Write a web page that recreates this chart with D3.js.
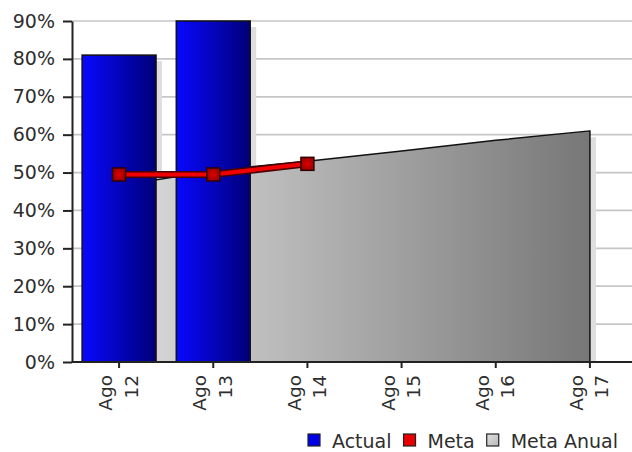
<!DOCTYPE html>
<html>
<head>
<meta charset="utf-8">
<script src="https://cdn.jsdelivr.net/npm/d3@7"></script>
<style>
  html, body { margin: 0; padding: 0; background: #fff; }
  svg { display: block; }
  text { font-family: "DejaVu Sans", Verdana, sans-serif; font-size: 19px; fill: #2e2e2e; }
</style>
</head>
<body>
<svg id="chart" width="632" height="452"></svg>
<script>
// ---- data ----
const categories = ["Ago 12", "Ago 13", "Ago 14", "Ago 15", "Ago 16", "Ago 17"];
const actualValues = [0.81, 0.90];
const metaValues = [0.495, 0.495, 0.523];
const metaAnualValues = [0.465, 0.505, 0.53, 0.557, 0.585, 0.61];
const yTickValues = [0, 0.1, 0.2, 0.3, 0.4, 0.5, 0.6, 0.7, 0.8, 0.9];
const legendLabels = ["Actual", "Meta", "Meta Anual"];

(function () {
// ---- layout ----
const W = 632, H = 452;
const pLeft = 72, pTop = 21, pBottom = 362, pRight = 637;
const svg = d3.select("#chart");

const x = d3.scaleBand().domain(categories).range([pLeft, pRight])
  .paddingInner(0.215).paddingOuter(0.1075);
const cx = c => x(c) + x.bandwidth() / 2;
const y = d3.scaleLinear().domain([0, 0.9]).range([pBottom, pTop]);

const defs = svg.append("defs");
const gBlue = defs.append("linearGradient").attr("id", "gBlue")
  .attr("x1", "0%").attr("x2", "100%").attr("y1", "0%").attr("y2", "0%");
gBlue.append("stop").attr("offset", "0%").attr("stop-color", "#0808ff");
gBlue.append("stop").attr("offset", "100%").attr("stop-color", "#000078");

const gGray = defs.append("linearGradient").attr("id", "gGray")
  .attr("gradientUnits", "userSpaceOnUse")
  .attr("x1", cx(categories[0])).attr("x2", cx(categories[categories.length - 1]))
  .attr("y1", 0).attr("y2", 0);
gGray.append("stop").attr("offset", "0%").attr("stop-color", "#dcdcdc");
gGray.append("stop").attr("offset", "100%").attr("stop-color", "#777777");

const gRed = defs.append("radialGradient").attr("id", "gRed");
gRed.append("stop").attr("offset", "0%").attr("stop-color", "#e00000");
gRed.append("stop").attr("offset", "100%").attr("stop-color", "#a00000");

const gLeg = defs.append("linearGradient").attr("id", "gLeg")
  .attr("x1", "0%").attr("x2", "100%").attr("y1", "0%").attr("y2", "100%");
gLeg.append("stop").attr("offset", "0%").attr("stop-color", "#e0e0e0");
gLeg.append("stop").attr("offset", "100%").attr("stop-color", "#b8b8b8");

defs.append("clipPath").attr("id", "plotClip").append("rect")
  .attr("x", pLeft).attr("y", 0).attr("width", W - pLeft).attr("height", pBottom);

// ---- gridlines ----
svg.append("g").selectAll("line").data(yTickValues.filter(v => v > 0)).join("line")
  .attr("x1", pLeft).attr("x2", W)
  .attr("y1", d => y(d)).attr("y2", d => y(d))
  .attr("stroke", "#c6c6c6").attr("stroke-width", 1.7);

const plot = svg.append("g").attr("clip-path", "url(#plotClip)");
const off = 6;

const areaPts = categories.map((c, i) => [cx(c), metaAnualValues[i]]);
const areaGen = d3.area().x(d => d[0]).y0(y(0)).y1(d => y(d[1]));

// area shadow
plot.append("path").datum(areaPts)
  .attr("d", areaGen)
  .attr("transform", `translate(${off},${off})`)
  .attr("fill", "#dedede");

// bar shadows
const barData = actualValues.map((v, i) => ({ c: categories[i], v }));
plot.append("g").selectAll("rect").data(barData).join("rect")
  .attr("x", d => x(d.c) + off)
  .attr("y", d => y(d.v) + off)
  .attr("width", x.bandwidth())
  .attr("height", d => y(0) - y(d.v))
  .attr("fill", "#dedede");

// area
plot.append("path").datum(areaPts)
  .attr("d", areaGen)
  .attr("fill", "url(#gGray)")
  .attr("stroke", "#111").attr("stroke-width", 1.5).attr("stroke-linejoin", "round");

// bars
plot.append("g").selectAll("rect").data(barData).join("rect")
  .attr("x", d => x(d.c))
  .attr("y", d => y(d.v))
  .attr("width", x.bandwidth())
  .attr("height", d => y(0) - y(d.v))
  .attr("fill", "url(#gBlue)")
  .attr("stroke", "#111").attr("stroke-width", 1.5);

// meta line
const metaPts = metaValues.map((v, i) => [cx(categories[i]), y(v)]);
const lineGen = d3.line();
svg.append("path").attr("d", lineGen(metaPts))
  .attr("fill", "none").attr("stroke", "#4a0000").attr("stroke-width", 7);
svg.append("path").attr("d", lineGen(metaPts))
  .attr("fill", "none").attr("stroke", "#f00000").attr("stroke-width", 4);
const ms = 13;
svg.append("g").selectAll("rect").data(metaPts).join("rect")
  .attr("x", d => d[0] - ms / 2).attr("y", d => d[1] - ms / 2)
  .attr("width", ms).attr("height", ms)
  .attr("fill", "url(#gRed)").attr("stroke", "#300000").attr("stroke-width", 1.5);

// ---- axes ----
const yAxis = svg.append("g").attr("transform", `translate(${pLeft},0)`)
  .call(d3.axisLeft(y).tickValues(yTickValues).tickFormat(d3.format(".0%"))
    .tickSize(9).tickSizeOuter(0).tickPadding(8));
yAxis.select(".domain").attr("stroke", "#222").attr("stroke-width", 2);
yAxis.selectAll(".tick line").attr("stroke", "#222").attr("stroke-width", 2);
yAxis.selectAll("text").attr("font-family", "DejaVu Sans").attr("font-size", 19).attr("fill", "#2e2e2e");

const xAxis = svg.append("g").attr("transform", `translate(0,${pBottom})`)
  .call(d3.axisBottom(x).tickSize(6).tickSizeOuter(0).tickFormat(""));
xAxis.select(".domain").attr("d", `M${pLeft},0H${W}`).attr("stroke", "#222").attr("stroke-width", 2);
xAxis.selectAll(".tick line").attr("stroke", "#222").attr("stroke-width", 2);

const xl = svg.append("g").selectAll("text").data(categories).join("text")
  .attr("transform", d => `translate(${cx(d)},${pBottom + 13}) rotate(-90)`)
  .attr("text-anchor", "end").style("font-size", "18.5px");
xl.append("tspan").attr("x", 0).attr("y", -6.8).text(d => d.split(" ")[0]);
xl.append("tspan").attr("x", 0).attr("y", 18.5).text(d => d.split(" ")[1]);

// ---- legend ----
const legFills = ["#0000e8", "#e80000", "url(#gLeg)"];
const leg = svg.append("g").attr("transform", "translate(308,434)");
let lx = 0;
legendLabels.forEach((lab, i) => {
  leg.append("rect").attr("x", lx).attr("y", 0).attr("width", 12).attr("height", 12)
    .attr("fill", legFills[i]).attr("stroke", "#222").attr("stroke-width", 1.2);
  const t = leg.append("text").attr("x", lx + 24).attr("y", 13.5).text(lab);
  lx += 24 + t.node().getComputedTextLength() + 12;
});
})();
</script>
</body>
</html>
